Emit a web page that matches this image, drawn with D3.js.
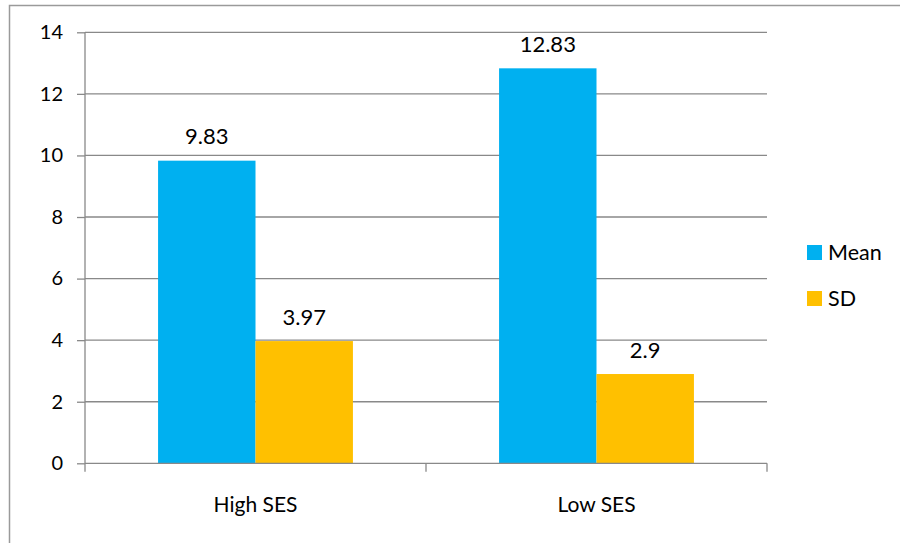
<!DOCTYPE html>
<html>
<head>
<meta charset="utf-8">
<script src="https://cdn.jsdelivr.net/npm/d3@7"></script>
<style>
  html, body { margin: 0; padding: 0; background: #fff; }
  svg { display: block; font-family: Lato, "Open Sans", sans-serif; }
</style>
</head>
<body>
<svg id="chart" width="900" height="543"></svg>
<script>
const categories = ["High SES", "Low SES"];
const seriesNames = ["Mean", "SD"];
const meanValues = [9.83, 12.83];
const sdValues = [3.97, 2.9];
const meanLabels = ["9.83", "12.83"];
const sdLabels = ["3.97", "2.9"];
const yTicks = [0, 2, 4, 6, 8, 10, 12, 14];
const colors = { Mean: "#00B0F0", SD: "#FFC000" };

const data = categories.map((c, i) => ({
  category: c,
  values: [
    { series: "Mean", value: meanValues[i], label: meanLabels[i] },
    { series: "SD", value: sdValues[i], label: sdLabels[i] }
  ]
}));

const svg = d3.select("#chart");
const plotLeft = 85, plotRight = 767, plotTop = 32.3, plotBottom = 463.3;
const gridColor = "#898989";

// outer chart border (top & left visible)
svg.append("path")
  .attr("d", "M9.5,543 L9.5,5.5 L900,5.5")
  .attr("fill", "none").attr("stroke", "#9a9a9a").attr("stroke-width", 1.5);

const y = d3.scaleLinear().domain([0, 14]).range([plotBottom, plotTop]);
const x = d3.scaleBand().domain(categories).range([plotLeft, plotRight]).paddingInner(0).paddingOuter(0);
const x1 = d3.scaleBand().domain(seriesNames).range([0, x.bandwidth()]).paddingInner(0).paddingOuter(0.75);

// gridlines
svg.append("g").selectAll("line").data(yTicks.filter(t => t > 0)).join("line")
  .attr("x1", plotLeft).attr("x2", plotRight)
  .attr("y1", d => y(d)).attr("y2", d => y(d))
  .attr("stroke", gridColor).attr("stroke-width", 1.3);

// bars
const groups = svg.append("g").selectAll("g").data(data).join("g")
  .attr("transform", d => `translate(${x(d.category)},0)`);
groups.selectAll("rect").data(d => d.values).join("rect")
  .attr("x", d => x1(d.series))
  .attr("width", x1.bandwidth())
  .attr("y", d => y(d.value))
  .attr("height", d => y(0) - y(d.value))
  .attr("fill", d => colors[d.series]);
groups.selectAll("text").data(d => d.values).join("text")
  .attr("x", d => x1(d.series) + x1.bandwidth() / 2)
  .attr("y", d => y(d.value) - 16.5)
  .attr("text-anchor", "middle")
  .attr("font-size", 22)
  .attr("fill", "#000")
  .text(d => d.label);

// y axis
const yAxis = svg.append("g").attr("transform", `translate(${plotLeft},0)`)
  .call(d3.axisLeft(y).tickValues(yTicks).tickSize(8).tickPadding(14).tickFormat(d3.format("d")));
yAxis.select(".domain").attr("stroke", gridColor).attr("stroke-width", 1.3).attr("d", `M0,${plotTop}V${plotBottom}`);
yAxis.selectAll(".tick line").attr("stroke", gridColor).attr("stroke-width", 1.3);
yAxis.selectAll(".tick text").attr("font-size", 20).attr("fill", "#000").attr("font-family", "Lato, sans-serif");

// x axis
const xAxis = svg.append("g").attr("transform", `translate(0,${plotBottom})`)
  .call(d3.axisBottom(x).tickSize(0).tickPadding(0));
xAxis.select(".domain").attr("stroke", gridColor).attr("stroke-width", 1.3).attr("d", `M${plotLeft},0H${plotRight}`);
xAxis.selectAll(".tick text").attr("font-size", 21).attr("fill", "#000")
  .attr("font-family", "Lato, sans-serif").attr("dy", null).attr("y", 48.4);
// category boundary tick marks
const bounds = [plotLeft].concat(categories.map(c => x(c) + x.bandwidth()));
xAxis.append("g").selectAll("line").data(bounds).join("line")
  .attr("x1", d => d).attr("x2", d => d).attr("y1", 0).attr("y2", 8.5)
  .attr("stroke", gridColor).attr("stroke-width", 1.3);

// legend
const legend = svg.append("g").selectAll("g").data(seriesNames).join("g")
  .attr("transform", (d, i) => `translate(807,${245 + i * 46})`);
legend.append("rect").attr("width", 15).attr("height", 15).attr("fill", d => colors[d]);
legend.append("text").attr("x", 21).attr("y", 14.9).attr("font-size", 21.5).attr("fill", "#000").text(d => d);
</script>
</body>
</html>
